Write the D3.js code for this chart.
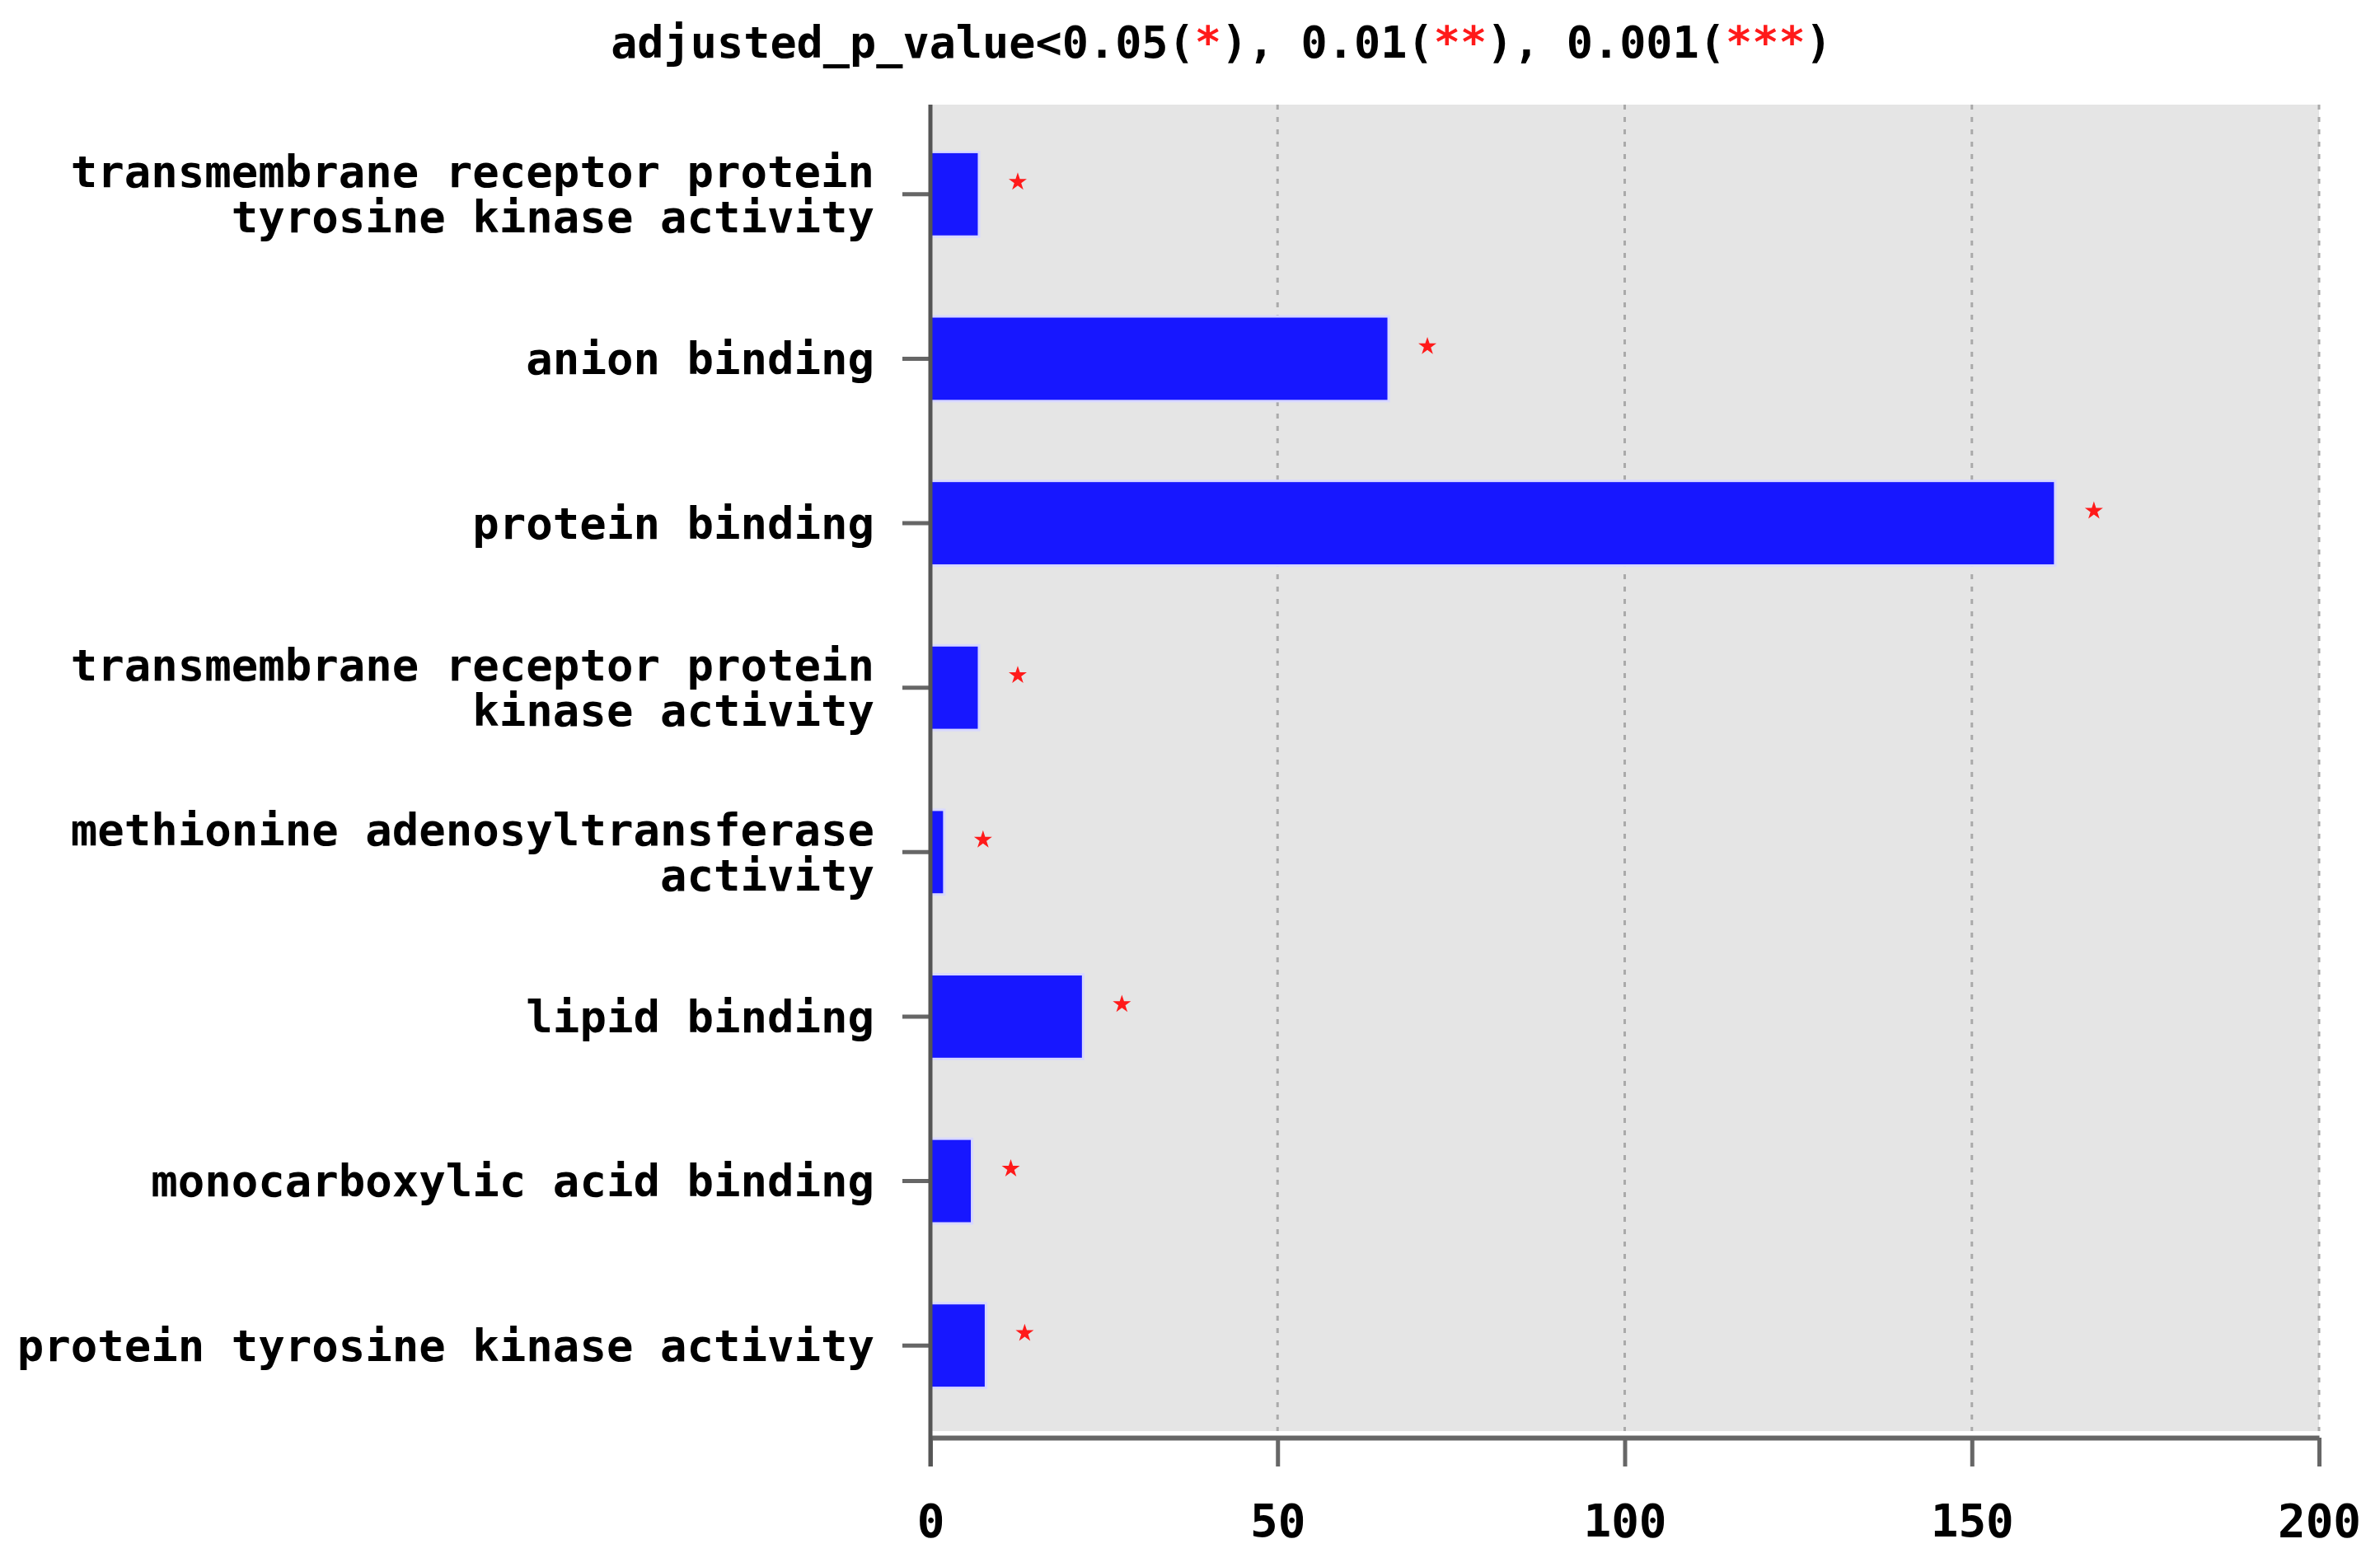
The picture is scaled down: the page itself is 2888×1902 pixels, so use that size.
<!DOCTYPE html>
<html>
<head>
<meta charset="utf-8">
<script src="https://cdn.jsdelivr.net/npm/d3@7"></script>
<style>
  html, body { margin: 0; padding: 0; background: #ffffff; }
  svg { display: block; }
</style>
</head>
<body>
<div id="chart"></div>
<script>
// ---- data ----
const categories = [
  "transmembrane receptor protein\ntyrosine kinase activity",
  "anion binding",
  "protein binding",
  "transmembrane receptor protein\nkinase activity",
  "methionine adenosyltransferase\nactivity",
  "lipid binding",
  "monocarboxylic acid binding",
  "protein tyrosine kinase activity"
];
const counts = [7, 66, 162, 7, 2, 22, 6, 8];
const significance = ["*", "*", "*", "*", "*", "*", "*", "*"];
const xTicks = [0, 50, 100, 150, 200];
const titleParts = [
  { text: "adjusted_p_value<0.05(", red: false },
  { text: "*", red: true },
  { text: "), 0.01(", red: false },
  { text: "**", red: true },
  { text: "), 0.001(", red: false },
  { text: "***", red: true },
  { text: ")", red: false }
];

// ---- layout ----
const W = 2888, H = 1902;
const FONT = "'DejaVu Sans Mono', 'Liberation Mono', monospace";
const panel = { left: 1129, right: 2814, top: 127, bottom: 1737 };
const axisY = 1745;

const svg = d3.select("#chart").append("svg")
  .attr("width", W).attr("height", H)
  .style("font-family", FONT);

const x = d3.scaleLinear().domain([0, 200]).range([panel.left, panel.right]);
const y = d3.scaleBand().domain(categories).range([136, 1733])
  .paddingInner(0.485).paddingOuter(0.2425);

// panel background
svg.append("rect")
  .attr("x", panel.left).attr("y", panel.top)
  .attr("width", panel.right - panel.left).attr("height", panel.bottom - panel.top)
  .attr("fill", "#e5e5e5");

// dotted grid lines
svg.append("g").selectAll("line")
  .data(xTicks.filter(d => d > 0))
  .join("line")
  .attr("x1", d => x(d)).attr("x2", d => x(d))
  .attr("y1", panel.top).attr("y2", panel.bottom)
  .attr("stroke", "#aaaaaa").attr("stroke-width", 3)
  .attr("stroke-dasharray", "6,9");

// bars
svg.append("g").selectAll("rect")
  .data(categories)
  .join("rect")
  .attr("x", x(0))
  .attr("y", d => y(d))
  .attr("width", (d, i) => x(counts[i]) - x(0))
  .attr("height", y.bandwidth())
  .attr("fill", "#1717ff")
  .attr("stroke", "#d8d8ff").attr("stroke-width", 3);

// significance stars
const starSym = d3.symbol().type(d3.symbolStar).size(150);
categories.forEach((c, i) => {
  const n = significance[i].length;
  for (let k = 0; k < n; k++) {
    svg.append("path")
      .attr("d", starSym())
      .attr("transform", `translate(${x(counts[i]) + 47 + k * 22},${y(c) + y.bandwidth() / 2 - 15})`)
      .attr("fill", "#ff1a1a");
  }
});

// x axis
const xAxis = svg.append("g")
  .attr("transform", `translate(0,${axisY})`)
  .call(d3.axisBottom(x).tickValues(xTicks).tickSize(35).tickSizeOuter(0).tickPadding(45));
xAxis.select(".domain").attr("stroke", "#666666").attr("stroke-width", 6);
xAxis.selectAll(".tick line").attr("stroke", "#666666").attr("stroke-width", 5);
xAxis.selectAll(".tick text")
  .attr("fill", "#000").attr("font-size", 56).attr("font-weight", "bold")
  .style("font-family", FONT);

// y axis
const yAxis = svg.append("g")
  .attr("transform", `translate(${x(0)},0)`)
  .call(d3.axisLeft(y).tickSize(34).tickSizeOuter(0).tickPadding(34));
yAxis.select(".domain").remove();
yAxis.selectAll(".tick line").attr("stroke", "#666666").attr("stroke-width", 5);
const lineH = 55;
yAxis.selectAll(".tick text")
  .attr("fill", "#000").attr("font-size", 54).attr("font-weight", "bold")
  .style("font-family", FONT)
  .each(function (d) {
    const lines = d.split("\n");
    const t = d3.select(this).text(null).attr("dy", null);
    lines.forEach((ln, j) => {
      t.append("tspan")
        .attr("x", -68)
        .attr("y", (j - (lines.length - 1) / 2) * lineH)
        .attr("dy", "0.35em")
        .text(ln);
    });
  });

// y axis line (drawn from panel top down to tick bottom)
svg.append("line")
  .attr("x1", x(0)).attr("x2", x(0))
  .attr("y1", panel.top).attr("y2", axisY + 35)
  .attr("stroke", "#555555").attr("stroke-width", 5);

// title
const title = svg.append("text")
  .attr("x", 1482).attr("y", 70)
  .attr("text-anchor", "middle")
  .attr("font-size", 53.5).attr("font-weight", "bold")
  .style("font-family", FONT);
titleParts.forEach(p => {
  title.append("tspan").attr("fill", p.red ? "#ff1a1a" : "#000").text(p.text);
});
</script>
</body>
</html>
